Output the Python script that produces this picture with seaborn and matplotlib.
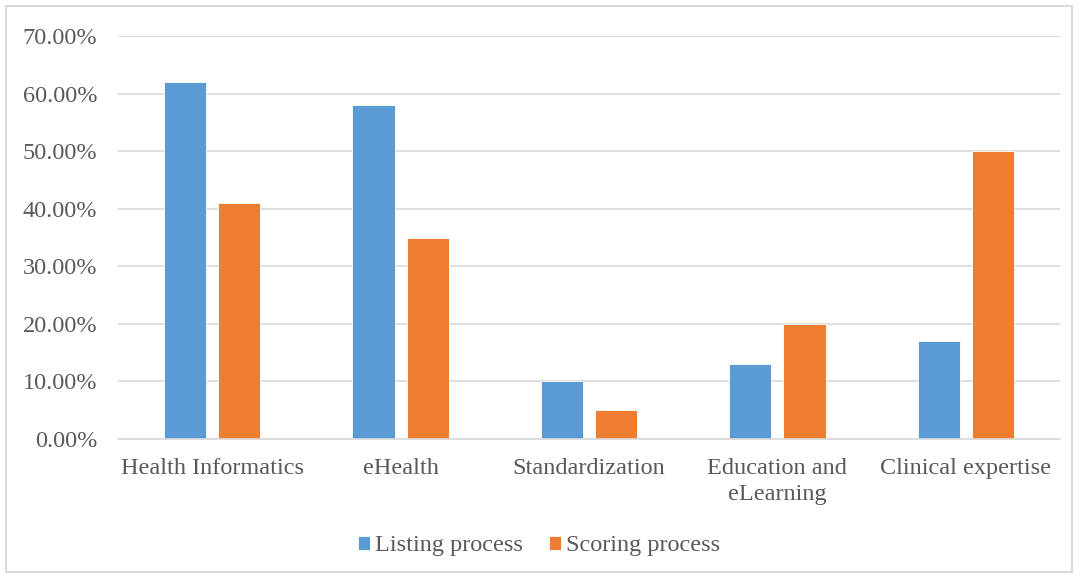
import matplotlib
matplotlib.use("Agg")
import matplotlib.pyplot as plt
import seaborn as sns
import pandas as pd
from matplotlib.ticker import PercentFormatter
from matplotlib.patches import Rectangle

categories = ["Health Informatics", "eHealth", "Standardization", "Education and\neLearning", "Clinical expertise"]
listing = [0.62, 0.58, 0.10, 0.13, 0.17]
scoring = [0.41, 0.35, 0.05, 0.20, 0.50]
series_names = ["Listing process", "Scoring process"]
y_ticks = [0.0, 0.1, 0.2, 0.3, 0.4, 0.5, 0.6, 0.7]

df = pd.DataFrame({
    "category": categories * 2,
    "value": listing + scoring,
    "series": [series_names[0]] * len(categories) + [series_names[1]] * len(categories),
})

sns.set_theme(style="white")
plt.rcParams["font.family"] = ["Liberation Serif", "DejaVu Serif"]

fig = plt.figure(figsize=(10.78, 5.78), dpi=100)
ax = fig.add_axes([118 / 1078, 1 - 439 / 578, (1060 - 118) / 1078, (439 - 36) / 578])

palette = {"Listing process": "#5B9BD5", "Scoring process": "#ED7D31"}
sns.barplot(data=df, x="category", y="value", hue="series", palette=palette,
            width=0.574, gap=0.22, ax=ax, edgecolor="white", linewidth=0.6,
            saturation=1, errorbar=None)

ax.set_ylim(0, 0.7)
ax.set_xlim(-0.5, len(categories) - 0.5)
ax.set_yticks(y_ticks)
ax.yaxis.set_major_formatter(PercentFormatter(1.0, decimals=2))
ax.yaxis.grid(True, color="#D9D9D9", linewidth=1.2)
ax.set_axisbelow(True)
for s in ["top", "right", "left"]:
    ax.spines[s].set_visible(False)
ax.spines["bottom"].set_color("#D9D9D9")
ax.spines["bottom"].set_linewidth(1.2)
ax.tick_params(axis="both", length=0, labelsize=17.5, colors="#595959")
ax.tick_params(axis="x", pad=14)
ax.tick_params(axis="y", pad=15)
for lbl in ax.get_xticklabels():
    lbl.set_linespacing(1.3)
ax.set_xlabel("")
ax.set_ylabel("")

handles, labels = ax.get_legend_handles_labels()
ax.legend_.remove()
fig.legend(handles, labels, loc="center", bbox_to_anchor=(0.5, 1 - 546 / 578), ncol=2,
           frameon=False, fontsize=17.5, labelcolor="#595959", handlelength=0.5,
           handleheight=0.5, handletextpad=0.2, columnspacing=1.1)

fig.patches.append(Rectangle((6 / 1078, 6 / 578), 1 - 12 / 1078, 1 - 12 / 578,
                             transform=fig.transFigure, fill=False,
                             edgecolor="#D9D9D9", linewidth=1.5))

fig.savefig("out.png", dpi=100)
